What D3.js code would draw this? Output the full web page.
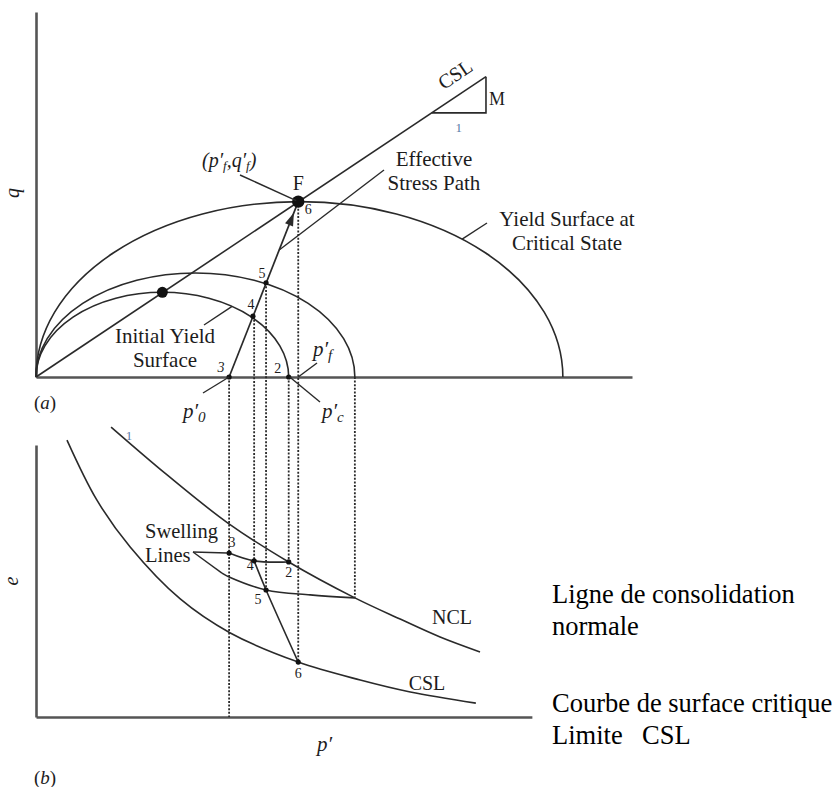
<!DOCTYPE html>
<html><head><meta charset="utf-8">
<script src="https://cdn.jsdelivr.net/npm/d3@7"></script>
<style>
html,body{margin:0;padding:0;background:#fff;}
svg{display:block;font-family:"Liberation Serif","Times New Roman",serif;}
</style></head><body>
<svg id="chart" width="837" height="787"></svg>
<script>
// ---------- (a) stress space p'–q ----------
const yieldPc   = [4.24, 5.35, 8.84];   // p' where each yield surface meets the axis
const yieldPeak = [1.42, 1.745, 2.94];  // q at the crown of each yield surface
const slopeM = 0.667;                   // critical state line slope
const cslEnd = 7.55, triStart = 6.64;   // CSL drawn to here, slope triangle from here
const pathNames = ["3", "4", "5", "F"];
const pathP = [3.24, 3.64, 3.86, 4.40];
const pathQ = [0, 1.02, 1.58, 2.94];

// ---------- (b) compression space p'–e ----------
const nclP = [1.26, 2.20, 3.22, 4.24, 5.35, 6.11, 6.78, 7.45];
const nclE = [10.66, 8.90, 7.13, 5.70, 4.38, 3.60, 2.94, 2.39];
const cslP = [0.52, 1.02, 1.58, 2.42, 3.26, 4.40, 5.44, 6.28, 7.38];
const cslE = [10.18, 7.98, 6.25, 4.34, 3.09, 2.02, 1.36, 0.92, 0.51];
const swell1P = [3.24, 3.66, 4.24];
const swell1E = [6.03, 5.74, 5.70];
const swell2P = [3.12, 3.24, 3.86, 4.60, 5.35];
const swell2E = [5.29, 5.15, 4.67, 4.49, 4.38];
const undrP = [3.66, 3.86, 4.40];
const undrE = [5.74, 4.67, 2.02];
// state points in p'–e
const stateNames = ["3", "4", "2", "5", "6"];
const stateP = [3.24, 3.66, 4.24, 3.86, 4.40];
const stateE = [6.03, 5.74, 5.70, 4.67, 2.02];

const ink = "#2a2a2a", txt = "#1c1c1c", axisInk = "#555", blueInk = "#5a7aa8";

const x = d3.scaleLinear().domain([0, 10]).range([36, 632]);
const q = d3.scaleLinear().domain([0, 6.12]).range([377, 12]);
const e = d3.scaleLinear().domain([0, 10]).range([717, 445]);

const svg = d3.select("#chart");

function ellipseQ(i, p) {
  const c = yieldPc[i] / 2, t = (p - c) / c;
  return yieldPeak[i] * Math.sqrt(Math.max(0, 1 - t * t));
}
function line(g, x1, y1, x2, y2, w, dash) {
  const l = g.append("line").attr("x1", x1).attr("y1", y1).attr("x2", x2).attr("y2", y2)
    .attr("stroke", ink).attr("stroke-width", w || 1.4);
  if (dash) l.attr("stroke-dasharray", dash);
  return l;
}
function label(g, s, px, py, size, opts) {
  opts = opts || {};
  return g.append("text").attr("x", px).attr("y", py).text(s)
    .attr("font-size", size).attr("fill", opts.fill || txt)
    .attr("text-anchor", opts.anchor || "middle")
    .attr("font-style", opts.italic ? "italic" : "normal")
    .attr("font-weight", opts.bold ? "bold" : "normal");
}
// p' with prime and subscript
function pPrime(g, px, py, sub, size) {
  const t = g.append("text").attr("x", px).attr("y", py).attr("font-size", size)
    .attr("font-style", "italic").attr("fill", txt);
  t.append("tspan").text("p\u2032");
  if (sub) t.append("tspan").attr("font-size", size * 0.72).attr("dy", 4).text(sub);
  return t;
}

// ---------- axes ----------
const axes = svg.append("g");
axes.append("g").attr("transform", `translate(${x(0)},0)`)
  .call(d3.axisLeft(q).tickValues([]).tickSizeOuter(0));
axes.append("g").attr("transform", `translate(0,${q(0)})`)
  .call(d3.axisBottom(x).tickValues([]).tickSizeOuter(0));
const xb = x.copy().domain([0, 8.32]).range([x(0), x(8.32)]);
axes.append("g").attr("transform", `translate(${x(0)},0)`)
  .call(d3.axisLeft(e).tickValues([]).tickSizeOuter(0));
axes.append("g").attr("transform", `translate(0,${e(0)})`)
  .call(d3.axisBottom(xb).tickValues([]).tickSizeOuter(0));
axes.selectAll(".domain").attr("stroke", axisInk).attr("stroke-width", 2.6);

// ---------- dotted projections between the two planes ----------
const proj = svg.append("g");
const dash = "2,1.6";
const dw = 1.8;
line(proj, x(pathP[0]), q(0), x(pathP[0]), e(0), dw, dash);
line(proj, x(stateP[1]), q(pathQ[1]), x(stateP[1]), e(stateE[1]), dw, dash);
line(proj, x(pathP[2]), q(pathQ[2]), x(pathP[2]), e(stateE[3]), dw, dash);
line(proj, x(yieldPc[0]), q(0), x(yieldPc[0]), e(stateE[2]), dw, dash);
line(proj, x(pathP[3]), q(pathQ[3]), x(pathP[3]), e(stateE[4]), dw, dash);
line(proj, x(yieldPc[1]), q(0), x(yieldPc[1]), e(swell2E[4]), dw, dash);

// ---------- (a) yield surfaces ----------
const upper = svg.append("g");
yieldPc.forEach((pc, i) => {
  const rx = (x(pc) - x(0)) / 2, ry = q(0) - q(yieldPeak[i]);
  upper.append("path")
    .attr("d", `M${x(0)},${q(0)} A${rx},${ry} 0 0 1 ${x(pc)},${q(0)}`)
    .attr("fill", "none").attr("stroke", ink).attr("stroke-width", 1.6);
});
// critical state line and slope triangle
line(upper, x(0), q(0), x(cslEnd), q(slopeM * cslEnd), 1.6);
upper.append("path")
  .attr("d", `M${x(triStart)},${q(slopeM * triStart)} H${x(cslEnd)} V${q(slopeM * cslEnd)}`)
  .attr("fill", "none").attr("stroke", ink).attr("stroke-width", 1.6);
// effective stress path
const a0 = [x(pathP[0]), q(pathQ[0])], aF = [x(pathP[3]), q(pathQ[3])];
line(upper, a0[0], a0[1], aF[0], aF[1], 1.7);
{
  const dx = aF[0] - a0[0], dy = aF[1] - a0[1], len = Math.hypot(dx, dy);
  const ux = dx / len, uy = dy / len;
  const tip = [aF[0] - ux * 12, aF[1] - uy * 12];
  const base = [tip[0] - ux * 13, tip[1] - uy * 13];
  upper.append("path")
    .attr("d", `M${tip[0]},${tip[1]} L${base[0] - uy * 4.3},${base[1] + ux * 4.3} L${base[0] + uy * 4.3},${base[1] - ux * 4.3}Z`)
    .attr("fill", ink);
}
// points
upper.append("circle").attr("cx", x(yieldPc[0] / 2)).attr("cy", q(yieldPeak[0])).attr("r", 5.5).attr("fill", "#111");
upper.append("circle").attr("cx", aF[0]).attr("cy", aF[1]).attr("r", 6.2).attr("fill", "#111");
upper.selectAll("circle.sp").data(pathP.slice(0, 3)).join("circle").attr("class", "sp")
  .attr("cx", (d) => x(d)).attr("cy", (d, i) => q(pathQ[i])).attr("r", 2.6).attr("fill", "#111");
upper.append("circle").attr("cx", x(yieldPc[0])).attr("cy", q(0)).attr("r", 2.6).attr("fill", "#111");

// labels for (a)
label(upper, "F", aF[0], aF[1] - 12, 20);
label(upper, "6", aF[0] + 10, aF[1] + 12, 14);
label(upper, "5", x(pathP[2]) - 4, q(pathQ[2]) - 5, 14);
label(upper, "4", x(pathP[1]) - 2, q(pathQ[1]) - 7, 14);
label(upper, "3", x(pathP[0]) - 8, q(0) - 5, 14, { italic: true });
label(upper, "2", x(yieldPc[0]) - 11, q(0) - 4, 14);

// (p'f, q'f)
{
  const t = upper.append("text").attr("x", 202).attr("y", 167).attr("font-size", 20)
    .attr("font-style", "italic").attr("fill", txt);
  t.append("tspan").text("(p\u2032");
  t.append("tspan").attr("font-size", 13).attr("dy", 3).text("f");
  t.append("tspan").attr("dy", -3).text(",q\u2032");
  t.append("tspan").attr("font-size", 13).attr("dy", 3).text("f");
  t.append("tspan").attr("dy", -3).text(")");
  line(upper, 240, 175, aF[0] - 2, aF[1] - 1, 1.4);
}
// Effective Stress Path
label(upper, "Effective", 434, 166, 21);
label(upper, "Stress Path", 434, 190, 21);
{
  const qq = 2.13, pp = pathP[0] + qq * (pathP[3] - pathP[0]) / pathQ[3];
  line(upper, 384, 170, x(pp), q(qq), 1.4);
}
// Yield Surface at Critical State
label(upper, "Yield Surface at", 567, 226, 21);
label(upper, "Critical State", 567, 250, 21);
line(upper, 487, 223, x(7.15), q(ellipseQ(2, 7.15)), 1.4);
// Initial Yield Surface
label(upper, "Initial Yield", 165, 343, 21);
label(upper, "Surface", 165, 367, 21);
line(upper, 204, 325, x(3.29), q(ellipseQ(0, 3.29)), 1.4);
// CSL and slope
upper.append("text").attr("transform", `translate(459,80) rotate(${-Math.atan(slopeM) * 180 / Math.PI})`)
  .attr("text-anchor", "middle").attr("font-size", 20).attr("fill", txt).text("CSL");
label(upper, "M", x(cslEnd) + 3, 105, 18, { anchor: "start" });
label(upper, "1", (x(triStart) + x(cslEnd)) / 2, 132, 13, { fill: blueInk });
// p' markers on the axis
pPrime(upper, 313, 356, "f", 21);
line(upper, x(pathP[3]), q(0), 317, 363, 1.4);
pPrime(upper, 183, 418, "0", 21);
line(upper, 203, 393, x(pathP[0]), q(0), 1.4);
pPrime(upper, 322, 418, "c", 21);
line(upper, x(yieldPc[0]) + 1, q(0), 320, 402, 1.4);
// axis names
upper.append("text").attr("transform", "translate(19,193) rotate(-90)").attr("text-anchor", "middle")
  .attr("font-size", 20).attr("font-style", "italic").attr("fill", txt).text("q");
{
  const t = upper.append("text").attr("x", 34).attr("y", 409).attr("font-size", 19).attr("fill", txt);
  t.append("tspan").text("(");
  t.append("tspan").attr("font-style", "italic").text("a");
  t.append("tspan").text(")");
}

// ---------- (b) e – p' ----------
const bot = svg.append("g");
const curve = d3.line().x((d) => x(d[0])).y((d) => e(d[1])).curve(d3.curveCatmullRom.alpha(0.5));
const zip = (a, b) => a.map((v, i) => [v, b[i]]);
[[nclP, nclE], [cslP, cslE], [swell1P, swell1E], [swell2P, swell2E], [undrP, undrE]].forEach(([pp, ee]) => {
  bot.append("path").attr("d", curve(zip(pp, ee))).attr("fill", "none")
    .attr("stroke", ink).attr("stroke-width", 1.6);
});
bot.selectAll("circle").data(stateP).join("circle")
  .attr("cx", (d) => x(d)).attr("cy", (d, i) => e(stateE[i])).attr("r", 2.6).attr("fill", "#111");

// state numbers
const offs = { "3": [3, -6], "4": [-4, 9], "2": [0, 15], "5": [-8, 14], "6": [0, 16] };
stateNames.forEach((n, i) => {
  label(bot, n, x(stateP[i]) + offs[n][0], e(stateE[i]) + offs[n][1], 14);
});
label(bot, "1", 129, 440, 13, { fill: blueInk });
label(bot, "NCL", 452, 624, 20);
label(bot, "CSL", 427, 690, 20);
label(bot, "Swelling", 145, 538, 20.5, { anchor: "start" });
label(bot, "Lines", 145, 562, 20.5, { anchor: "start" });
line(bot, 193, 552, x(swell1P[0]) - 2, e(swell1E[0]), 1.4);
line(bot, 193, 552, x(swell2P[0]), e(swell2E[0]), 1.4);
pPrime(bot, 317, 751, null, 21);
bot.append("text").attr("transform", "translate(18,581) rotate(-90)").attr("text-anchor", "middle")
  .attr("font-size", 20).attr("font-style", "italic").attr("fill", txt).text("e");
{
  const t = bot.append("text").attr("x", 34).attr("y", 784).attr("font-size", 19).attr("fill", txt);
  t.append("tspan").text("(");
  t.append("tspan").attr("font-style", "italic").text("b");
  t.append("tspan").text(")");
}

// ---------- French captions ----------
const fr = svg.append("g").attr("fill", "#000").attr("font-size", 26.5);
fr.append("text").attr("x", 552).attr("y", 603).text("Ligne de consolidation");
fr.append("text").attr("x", 552).attr("y", 635).text("normale");
fr.append("text").attr("x", 552).attr("y", 712).text("Courbe de surface critique");
{
  const t = fr.append("text").attr("x", 552).attr("y", 744);
  t.append("tspan").text("Limite");
  t.append("tspan").attr("x", 642).text("CSL");
}
</script>
</body></html>
